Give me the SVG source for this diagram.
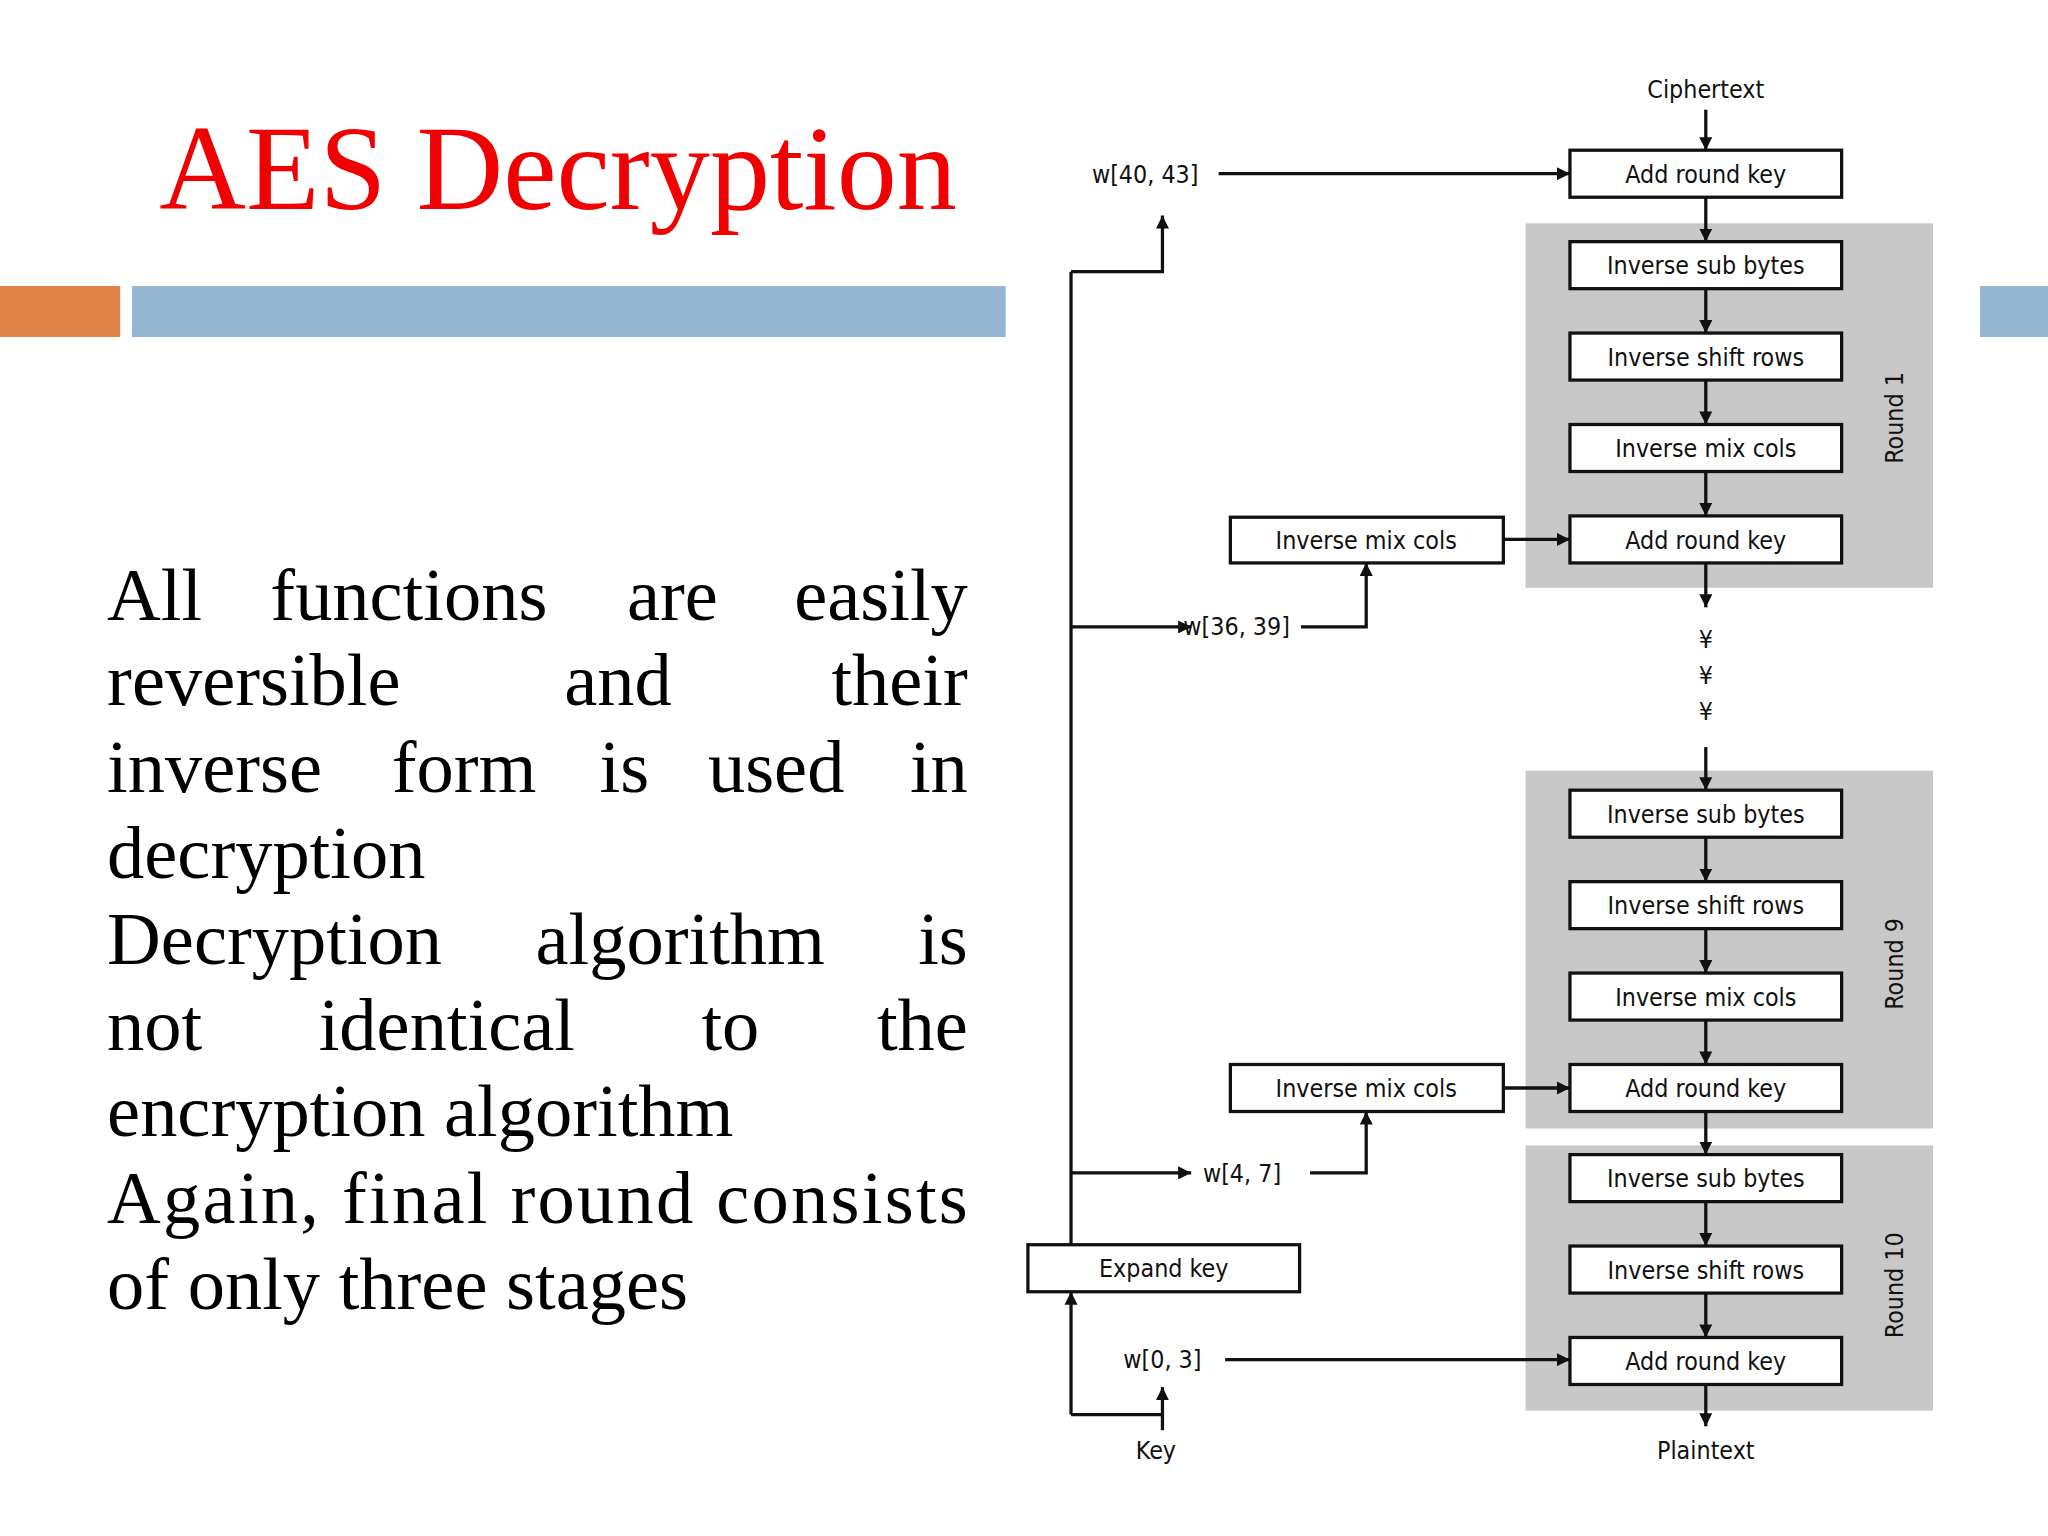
<svg xmlns="http://www.w3.org/2000/svg" width="2048" height="1536" viewBox="0 0 2048 1536">
<defs>
<marker id="ah" viewBox="0 0 10 10" refX="10" refY="5" markerWidth="10" markerHeight="10" markerUnits="userSpaceOnUse" orient="auto"><path d="M0,0 L10,5 L0,10 z" fill="#111"/></marker>
<style>
.b{fill:#fff;stroke:#111;stroke-width:2.5}
.g{fill:#c8c8c8}
.t{font-family:"DejaVu Sans Condensed","DejaVu Sans",sans-serif;font-size:19px;fill:#111;text-anchor:middle}
.l{font-family:"DejaVu Sans Condensed","DejaVu Sans",sans-serif;font-size:19px;fill:#111}
.c{fill:none;stroke:#111;stroke-width:2.5}
.a{marker-end:url(#ah)}
.body{font-family:"Liberation Serif",serif;font-size:57px;fill:#000}
</style>
</defs>
<rect width="2048" height="1536" fill="#fff"/>
<g transform="scale(1.30612)">
<text x="122" y="160" font-family="Liberation Serif,serif" font-size="92" fill="#f00000">AES Decryption</text>
<rect x="0" y="219" width="92" height="39" fill="#e0844a"/>
<rect x="101" y="219" width="669" height="39" fill="#95b6d3"/>
<rect x="1516" y="219" width="52" height="39" fill="#95b6d3"/>
<g class="body">
<text x="82" y="475">All</text><text x="207" y="475">functions</text><text x="480" y="475">are</text><text x="741" y="475" text-anchor="end">easily</text>
<text x="82" y="540">reversible</text><text x="432" y="540">and</text><text x="741" y="540" text-anchor="end">their</text>
<text x="82" y="606">inverse</text><text x="300" y="606">form</text><text x="459" y="606">is</text><text x="542" y="606">used</text><text x="741" y="606" text-anchor="end">in</text>
<text x="82" y="672">decryption</text>
<text x="82" y="738">Decryption</text><text x="410" y="738">algorithm</text><text x="741" y="738" text-anchor="end">is</text>
<text x="82" y="804">not</text><text x="244" y="804">identical</text><text x="537" y="804">to</text><text x="741" y="804" text-anchor="end">the</text>
<text x="82" y="870">encryption algorithm</text>
<text x="82" y="936" textLength="659" lengthAdjust="spacing">Again, final round consists</text>
<text x="82" y="1002">of only three stages</text>
</g>
<g id="panels">
<rect class="g" x="1168" y="171" width="312" height="279"/>
<rect class="g" x="1168" y="590" width="312" height="274"/>
<rect class="g" x="1168" y="877" width="312" height="203"/>
<text class="t" transform="translate(1457,320) rotate(-90)">Round 1</text>
<text class="t" transform="translate(1457,738) rotate(-90)">Round 9</text>
<text class="t" transform="translate(1457,984) rotate(-90)">Round 10</text>
</g>
<g id="connectors">
<path class="c a" d="M1306,84 V115"/>
<path class="c a" d="M1306,151 V185"/>
<path class="c a" d="M1306,221 V255"/>
<path class="c a" d="M1306,291 V325"/>
<path class="c a" d="M1306,361 V395"/>
<path class="c a" d="M1306,431 V465"/>
<path class="c a" d="M1306,572 V605"/>
<path class="c a" d="M1306,641 V675"/>
<path class="c a" d="M1306,711 V745"/>
<path class="c a" d="M1306,781 V815"/>
<path class="c a" d="M1306,851 V884"/>
<path class="c a" d="M1306,920 V954"/>
<path class="c a" d="M1306,990 V1024"/>
<path class="c a" d="M1306,1060 V1092"/>
<path class="c a" d="M933,133 H1202"/>
<path class="c a" d="M1151,413 H1202"/>
<path class="c a" d="M1151,833 H1202"/>
<path class="c a" d="M938,1041 H1202"/>
<path class="c" d="M820,953 V208"/>
<path class="c a" d="M820,208 H890 V165"/>
<path class="c a" d="M820,480 H912"/>
<path class="c a" d="M996,480 H1046 V431"/>
<path class="c a" d="M820,898 H912"/>
<path class="c a" d="M1003,898 H1046 V851"/>
<path class="c a" d="M820,1083 V989"/>
<path class="c" d="M820,1083 H890"/>
<path class="c a" d="M890,1095 V1062"/>
</g>
<text class="t" x="1306" y="75">Ciphertext</text>
<text class="l" x="836" y="140">w[40, 43]</text>
<text class="l" x="906" y="486">w[36, 39]</text>
<text class="l" x="921" y="905">w[4, 7]</text>
<text class="l" x="860" y="1047">w[0, 3]</text>
<text class="t" x="885" y="1117">Key</text>
<text class="t" x="1306" y="1117">Plaintext</text>
<text class="t" x="1306" y="496">¥</text>
<text class="t" x="1306" y="524">¥</text>
<text class="t" x="1306" y="551">¥</text>
<g id="n1"><rect class="b" x="1202" y="115" width="208" height="36"/><text class="t" x="1306" y="140">Add round key</text></g>
<g id="n2"><rect class="b" x="1202" y="185" width="208" height="36"/><text class="t" x="1306" y="210">Inverse sub bytes</text></g>
<g id="n3"><rect class="b" x="1202" y="255" width="208" height="36"/><text class="t" x="1306" y="280">Inverse shift rows</text></g>
<g id="n4"><rect class="b" x="1202" y="325" width="208" height="36"/><text class="t" x="1306" y="350">Inverse mix cols</text></g>
<g id="n5"><rect class="b" x="1202" y="395" width="208" height="36"/><text class="t" x="1306" y="420">Add round key</text></g>
<g id="n6"><rect class="b" x="942" y="396" width="209" height="35"/><text class="t" x="1046" y="420">Inverse mix cols</text></g>
<g id="n7"><rect class="b" x="1202" y="605" width="208" height="36"/><text class="t" x="1306" y="630">Inverse sub bytes</text></g>
<g id="n8"><rect class="b" x="1202" y="675" width="208" height="36"/><text class="t" x="1306" y="700">Inverse shift rows</text></g>
<g id="n9"><rect class="b" x="1202" y="745" width="208" height="36"/><text class="t" x="1306" y="770">Inverse mix cols</text></g>
<g id="n10"><rect class="b" x="1202" y="815" width="208" height="36"/><text class="t" x="1306" y="840">Add round key</text></g>
<g id="n11"><rect class="b" x="942" y="815" width="209" height="36"/><text class="t" x="1046" y="840">Inverse mix cols</text></g>
<g id="n12"><rect class="b" x="1202" y="884" width="208" height="36"/><text class="t" x="1306" y="909">Inverse sub bytes</text></g>
<g id="n13"><rect class="b" x="1202" y="954" width="208" height="36"/><text class="t" x="1306" y="979">Inverse shift rows</text></g>
<g id="n14"><rect class="b" x="1202" y="1024" width="208" height="36"/><text class="t" x="1306" y="1049">Add round key</text></g>
<g id="n15"><rect class="b" x="787" y="953" width="208" height="36"/><text class="t" x="891" y="978">Expand key</text></g>
</g>
</svg>
